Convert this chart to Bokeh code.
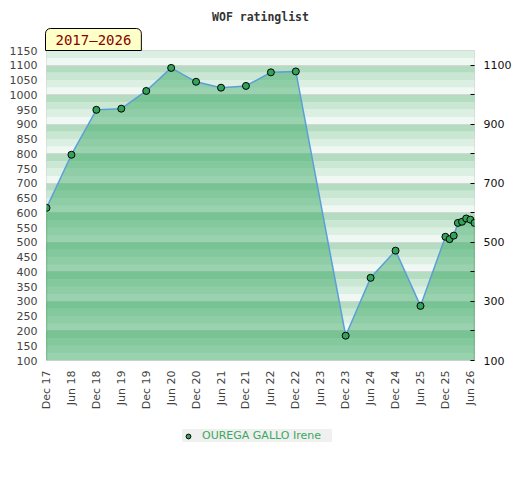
import math
from bokeh.plotting import figure
from bokeh.layouts import column
from bokeh.models import (Range1d, LinearAxis, FixedTicker, Title, Legend, LegendItem,
                          ColumnDataSource)
from bokeh.embed import file_html
from bokeh.resources import INLINE

# ---- data ----
dates = ["2017-12", "2018-06", "2018-12", "2019-06", "2019-12", "2020-06", "2020-12",
         "2021-06", "2021-12", "2022-06", "2022-12", "2023-12", "2024-06", "2024-12",
         "2025-06", "2025-12", "2026-01", "2026-02", "2026-03", "2026-04", "2026-05",
         "2026-06", "2026-07"]
ratings = [617, 797, 949, 953, 1013, 1091, 1044, 1024, 1030, 1076, 1079, 184, 380, 472,
           285, 519, 511, 523, 566, 570, 581, 577, 566]
tick_labels = ["Dec 17", "Jun 18", "Dec 18", "Jun 19", "Dec 19", "Jun 20", "Dec 20",
               "Jun 21", "Dec 21", "Jun 22", "Dec 22", "Jun 23", "Dec 23", "Jun 24",
               "Dec 24", "Jun 25", "Dec 25", "Jun 26"]
left_ticks = list(range(100, 1151, 50))
right_major = [100, 300, 500, 700, 900, 1100]
right_minor = [200, 400, 600, 800, 1000]
player = "OUREGA GALLO Irene"
title = "WOF ratinglist"
period = "2017\u20132026"

def month_index(s):
    y, m = s.split("-")
    return (int(y) - 2017) * 12 + int(m) - 12

xs = [month_index(d) for d in dates]
tick_pos = [i * 6 for i in range(len(tick_labels))]

MARK_FILL = "#34a35a"

p = figure(frame_width=428, frame_height=310,
           output_backend="svg", toolbar_location=None,
           title=None, x_range=Range1d(xs[0], xs[-1]), y_range=Range1d(100, 1150),
           min_border_left=46, min_border_right=40, min_border_top=50, min_border_bottom=54,
           background_fill_color="white", border_fill_color="white")
p.outline_line_color = "#d0d0d0"
p.xgrid.visible = False
p.ygrid.ticker = FixedTicker(ticks=list(range(100, 1201, 100)))
p.ygrid.grid_line_color = "#d6d6d6"

# background stripes (4 per 100 units)
stripe_cols = ["#eff8f2", "#dcefe3", "#c9e7d3", "#b3dcc1"]
bots, tops, cols = [], [], []
for b in range(100, 1200, 100):
    for k in range(4):
        bots.append(b + 25 * k)
        tops.append(b + 25 * (k + 1))
        cols.append(stripe_cols[k])
stripes = p.quad(left=-10, right=200, bottom=bots, top=tops, fill_color=cols, line_color=None)
stripes.level = "image"

src = ColumnDataSource(dict(x=xs, y=ratings))
p.varea(x="x", y1=100, y2="y", source=src, fill_color="#2ea55a", fill_alpha=0.45)
p.segment(x0=[xs[0], xs[-1]], y0=[100, 100], x1=[xs[0], xs[-1]], y1=[ratings[0], ratings[-1]],
          line_color="#3a9e5a", line_width=1.2)
p.line(x="x", y="y", source=src, line_color="#5b9fd8", line_width=1.5)
p.scatter(x="x", y="y", source=src, size=7, fill_color=MARK_FILL, line_color="black",
          line_width=1)

# axes
ax = p.xaxis[0]
ax.ticker = FixedTicker(ticks=tick_pos)
ax.major_label_overrides = {t: l for t, l in zip(tick_pos, tick_labels)}
ax.major_label_orientation = math.pi / 2
ax.major_tick_in = 0
ax.major_tick_out = 0
ax.minor_tick_line_color = None
ax.axis_line_color = None
ax.major_label_text_font = "DejaVu Sans"
ax.major_label_text_font_size = "11px"
ax.major_label_text_color = "#444444"
ax.major_label_standoff = 10

ay = p.yaxis[0]
ay.ticker = FixedTicker(ticks=left_ticks)
ay.major_tick_in = 0
ay.major_tick_out = 0
ay.minor_tick_line_color = None
ay.axis_line_color = None
ay.major_label_text_font = "DejaVu Sans"
ay.major_label_text_font_size = "11px"
ay.major_label_text_color = "#444444"
ay.major_label_standoff = 9

ar = LinearAxis(ticker=FixedTicker(ticks=right_major, minor_ticks=right_minor))
ar.major_tick_in = 4
ar.major_tick_out = 0
ar.minor_tick_in = 4
ar.minor_tick_out = 0
ar.major_tick_line_color = "black"
ar.minor_tick_line_color = "black"
ar.axis_line_color = None
ar.major_label_text_font = "DejaVu Sans"
ar.major_label_text_font_size = "11px"
ar.major_label_text_color = "#111111"
ar.major_label_standoff = 9
p.add_layout(ar, "right")

# period box (closest to frame) and title above it
p.add_layout(Title(text=period, align="left", offset=-1, standoff=0,
                   text_font="DejaVu Sans Mono", text_font_style="normal",
                   text_font_size="14px", text_color="#8b0000",
                   background_fill_color="#ffffc8", border_line_color="black",
                   border_line_width=1, padding=(10, 10, 3, 3), border_radius=(5, 5, 0, 0)),
             "above")
p.add_layout(Title(text=title, align="center", standoff=6,
                   text_font="DejaVu Sans Mono", text_font_style="bold",
                   text_font_size="11.5px", text_color="#333333"), "above")

# legend strip below the chart (its frame is aligned with the chart's frame)
q = figure(width=514, height=46, output_backend="svg", toolbar_location=None,
           x_range=Range1d(0, 1), y_range=Range1d(0, 1), min_border=0,
           x_axis_location=None, y_axis_location=None,
           background_fill_color="white", border_fill_color="white")
q.outline_line_color = None
q.grid.visible = False
dummy = q.scatter(x=[-5], y=[-5], size=7, fill_color=MARK_FILL, line_color="black",
                  line_width=1)
legend = Legend(items=[LegendItem(label=player, renderers=[dummy])], location=(136, 18),
                orientation="horizontal", background_fill_color="#f0f0f0",
                background_fill_alpha=1.0, border_line_color=None,
                label_text_color="#3aa85e", label_text_font="DejaVu Sans",
                label_text_font_size="11px", glyph_width=12, glyph_height=12,
                label_height=12, label_width=130, padding=3, margin=0, label_standoff=8)
q.add_layout(legend, "center")

layout = column(p, q, spacing=0)
open("out.html", "w").write(file_html(layout, INLINE))
